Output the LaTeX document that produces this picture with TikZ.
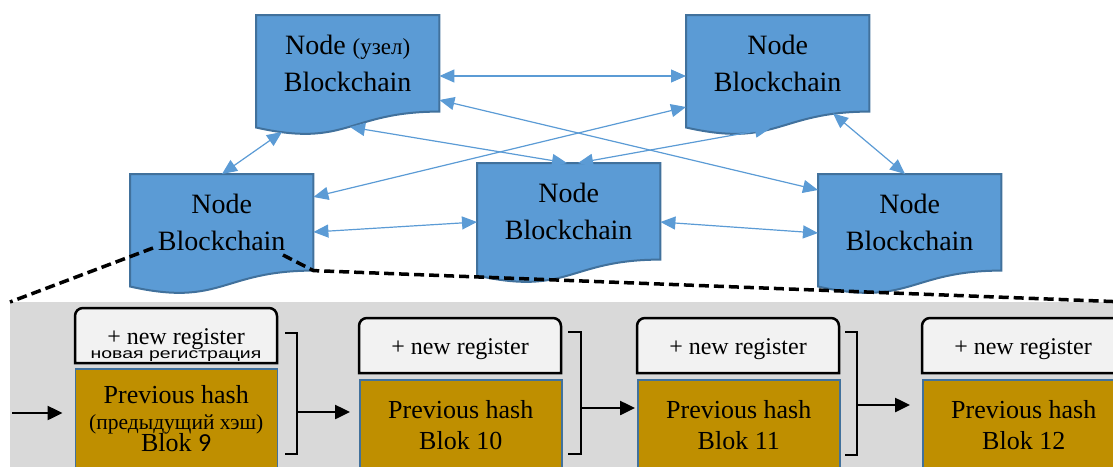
\documentclass[tikz,border=0pt]{standalone}
\usepackage{fontspec}
\setmainfont{Liberation Serif}
\newfontfamily\cyrsans{Liberation Sans}
\newfontfamily\carlito{Carlito}
\usetikzlibrary{arrows.meta,calc,backgrounds}
\definecolor{nodeblue}{HTML}{5B9BD5}
\definecolor{nodeedge}{HTML}{41719C}
\definecolor{goldfill}{HTML}{BF8F00}
\definecolor{panelgray}{HTML}{D9D9D9}
\definecolor{regfill}{HTML}{F2F2F2}
\tikzset{
  docnode/.style={anchor=north west, minimum width=183pt, minimum height=96.2pt,
    inner sep=0pt, align=center, font=\fontsize{28}{37}\selectfont},
  docshape/.style={fill=nodeblue, draw=nodeedge, line width=2pt},
  link/.style={draw=nodeblue, line width=1.2pt,
    {Triangle[length=15pt,width=13pt]}-{Triangle[length=15pt,width=13pt]}},
  panel/.style={fill=panelgray, draw=none, anchor=north west, inner sep=0pt},
  regline/.style={fill=regfill, draw=black, line width=2.5pt},
  regtext/.style={anchor=base, inner sep=0pt, font=\fontsize{24}{29}\selectfont},
  regru/.style={anchor=base, inner sep=0pt, font=\cyrsans\fontsize{14.5}{16}\selectfont},
  goldbox/.style={anchor=north west, draw=nodeedge, fill=goldfill, line width=1.5pt,
    minimum width=202pt, inner sep=0pt, align=center, font=\fontsize{26}{31}\selectfont},
  bracket/.style={draw=black, line width=2.5pt},
  chain/.style={draw=black, line width=2.5pt, -{Triangle[length=15pt,width=14pt]}},
  zoomline/.style={draw=black, line width=3.5pt, dash pattern=on 10pt off 5pt},
}
\begin{document}
\begin{tikzpicture}[x=1pt,y=-1pt]
\useasboundingbox (0,0) rectangle (1113,466);
\clip (0,0) rectangle (1113,466);

% network nodes
\node[docnode] (tl) at (256,15) {Node {\fontsize{23}{23}\selectfont(узел)}\\Blockchain};
\node[docnode] (tr) at (686,15) {Node\\Blockchain};
\node[docnode] (l)  at (130,174) {Node\\Blockchain};
\node[docnode] (c)  at (477,163) {Node\\Blockchain};
\node[docnode] (r)  at (818,174) {Node\\Blockchain};

% document outlines behind the node texts
\begin{pgfonlayer}{background}
\foreach \n in {tl,tr,l,c,r} {
  \path[docshape] (\n.north west) -- (\n.north east) -- (\n.south east)
    .. controls (\n.south) and ($(\n.south)+(0,36.6)$) .. ($(\n.south west)+(0,15.9)$) -- cycle;
}
\end{pgfonlayer}

% peer-to-peer links
\draw[link] ($(tl.north east)+(0,61)$) -- ($(tr.north west)+(0,61)$);
\draw[link] ($(tl.north west)+(26,117)$) -- ($(l.north west)+(92,0)$);
\draw[link] ($(tl.north west)+(94,112)$) -- ($(c.north west)+(90,0)$);
\draw[link] ($(tl.north east)+(0,85)$) -- ($(r.north west)+(0,16)$);
\draw[link] ($(tr.north west)+(0,92)$) -- ($(l.north east)+(0,23)$);
\draw[link] ($(tr.north west)+(84,113.5)$) -- ($(c.north west)+(101,0)$);
\draw[link] ($(tr.north west)+(147,98.4)$) -- ($(r.north west)+(87,0)$);
\draw[link] ($(l.north east)+(0,58)$) -- ($(c.north west)+(0,59)$);
\draw[link] ($(c.north east)+(0,59)$) -- ($(r.north west)+(0,59)$);

% magnified chain panel
\node[panel, minimum width=1115pt, minimum height=180pt] (pan) at (10,302) {};

% register boxes (rounded top corners)
\foreach \x/\y in {75/308, 359/318, 637/318, 922/318} {
  \draw[regline] (\x,\y+55) -- (\x,\y+8) arc[start angle=180,end angle=270,radius=8]
    -- (\x+194,\y) arc[start angle=270,end angle=360,radius=8] -- (\x+202,\y+55) -- cycle;
}
\node[regtext] (reg9) at (176,344) {+ new register};
\node[regru] (reg9ru) at (176,358.5) {\scalebox{1.34}[1]{новая регистрация}};
\node[regtext] (reg10) at (460,354) {+ new register};
\node[regtext] (reg11) at (738,354) {+ new register};
\node[regtext] (reg12) at (1023,354) {+ new register};

% blocks
\node[goldbox, minimum height=100pt] (b9) at (74.5,368)
  {Previous hash\\[-5pt]{\fontsize{21.5}{21.5}\selectfont(предыдущий хэш)}\\[-9pt]Blok {\carlito 9}};
\node[goldbox, minimum height=90pt] (b10) at (359,379) {Previous hash\\Blok 10};
\node[goldbox, minimum height=90pt] (b11) at (637,379) {Previous hash\\Blok 11};
\node[goldbox, minimum height=90pt] (b12) at (922,379) {Previous hash\\Blok 12};

% brackets grouping each block
\draw[bracket] (285,333) -- (297,333) -- (297,454) -- (285,454);
\draw[bracket] (568,332) -- (581,332) -- (581,454) -- (568,454);
\draw[bracket] (845,332) -- (857,332) -- (857,455) -- (845,455);
\coordinate (k9) at (297,412);
\coordinate (k10) at (581,408);
\coordinate (k11) at (857,405);
\coordinate (start) at (12,413);

% chain arrows
\draw[chain, shorten >=12pt] (start) -- (start -| b9.west);
\draw[chain, shorten >=9pt] (k9) -- (k9 -| b10.west);
\draw[chain, shorten >=2pt] (k10) -- (k10 -| b11.west);
\draw[chain, shorten >=12pt] (k11) -- (k11 -| b12.west);

% zoom lines from the node to the panel
\draw[zoomline] ($(l.north west)+(23,74)$) -- (pan.north west);
\draw[zoomline] ($(l.north west)+(153,81)$) -- (l.south east) -- (pan.north east);
\end{tikzpicture}
\end{document}
